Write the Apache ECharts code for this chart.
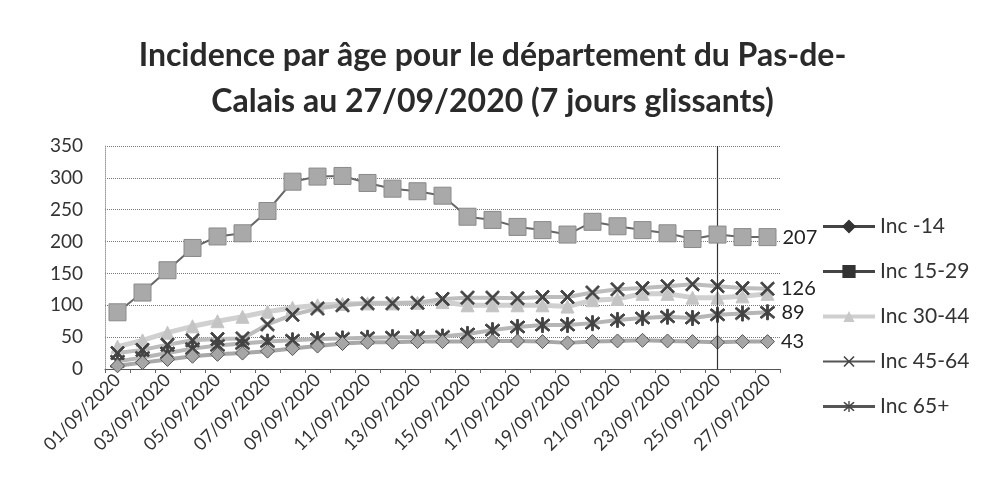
<!DOCTYPE html>
<html>
<head>
<meta charset="utf-8">
<script src="https://cdn.jsdelivr.net/npm/echarts@6/dist/echarts.min.js"></script>
<style>
  html, body { margin: 0; padding: 0; background: #fff; }
  #chart { width: 985px; height: 501px; }
</style>
</head>
<body>
<div id="chart"></div>
<script>
const dates = [
  '01/09/2020', '02/09/2020', '03/09/2020', '04/09/2020', '05/09/2020', '06/09/2020',
  '07/09/2020', '08/09/2020', '09/09/2020', '10/09/2020', '11/09/2020', '12/09/2020',
  '13/09/2020', '14/09/2020', '15/09/2020', '16/09/2020', '17/09/2020', '18/09/2020',
  '19/09/2020', '20/09/2020', '21/09/2020', '22/09/2020', '23/09/2020', '24/09/2020',
  '25/09/2020', '26/09/2020', '27/09/2020'
];
const inc14 = [5, 10, 15, 20, 23, 25, 28, 32, 36, 40, 42, 42, 43, 43, 43, 44, 44, 43, 41, 43, 44, 45, 44, 43, 42, 43, 43];
const inc15_29 = [89, 120, 155, 190, 208, 213, 248, 294, 302, 303, 292, 283, 279, 272, 239, 234, 223, 218, 211, 231, 224, 218, 213, 204, 211, 207, 207];
const inc30_44 = [35, 45, 57, 67, 75, 82, 90, 96, 100, 102, 103, 103, 104, 105, 100, 100, 100, 100, 98, 108, 110, 118, 118, 112, 112, 114, 118];
const inc45_64 = [25, 30, 38, 45, 47, 48, 70, 85, 95, 100, 103, 103, 104, 110, 112, 112, 111, 113, 113, 120, 125, 127, 130, 133, 130, 127, 126];
const inc65 = [12, 18, 25, 32, 37, 40, 43, 45, 47, 48, 49, 50, 50, 51, 55, 61, 66, 69, 69, 72, 77, 80, 82, 80, 85, 87, 89];
const yTicks = [0, 50, 100, 150, 200, 250, 300, 350];

const FONT = 'Lato, "Open Sans", sans-serif';
const xPath = 'path://M0,1 L1,0 L5,4 L9,0 L10,1 L6,5 L10,9 L9,10 L5,6 L1,10 L0,9 L4,5 Z';
const starPath = 'path://M0,1 L1,0 L5,4 L9,0 L10,1 L6,5 L10,9 L9,10 L5,6 L1,10 L0,9 L4,5 Z M4.4,-1 L5.6,-1 L5.6,11 L4.4,11 Z';

// only the last point carries a value label
const lastLabel = {
  show: true,
  position: 'right',
  distance: 6,
  fontSize: 20,
  fontFamily: FONT,
  color: '#222',
  formatter: (p) => (p.dataIndex === dates.length - 1 ? String(p.value) : '')
};

const chart = echarts.init(document.getElementById('chart'));

chart.setOption({
  animation: false,
  title: {
    text: 'Incidence par âge pour le département du Pas-de-\nCalais au 27/09/2020 (7 jours glissants)',
    left: 'center',
    top: 28,
    padding: [5, 5, 5, 15],
    textStyle: {
      fontFamily: FONT,
      fontSize: 32,
      fontWeight: 'bold',
      color: '#2a2a2a',
      lineHeight: 46
    }
  },
  legend: {
    orient: 'vertical',
    left: 816,
    top: 211,
    itemWidth: 52,
    itemHeight: 14,
    itemGap: 24,
    textStyle: { fontFamily: FONT, fontSize: 21, color: '#333', lineHeight: 20 },
    data: [
      { name: 'Inc -14', itemStyle: { color: '#333', borderColor: '#333' }, lineStyle: { color: '#444', width: 3 } },
      { name: 'Inc 15-29', itemStyle: { color: '#333', borderColor: '#333' }, lineStyle: { color: '#444', width: 3 } },
      { name: 'Inc 30-44', itemStyle: { color: '#c8c8c8', borderColor: '#c8c8c8' }, lineStyle: { color: '#cfcfcf', width: 4 } },
      { name: 'Inc 45-64', itemStyle: { color: '#444', borderColor: '#444' }, lineStyle: { color: '#555', width: 2 } },
      { name: 'Inc 65+', itemStyle: { color: '#444', borderColor: '#444' }, lineStyle: { color: '#555', width: 3 } }
    ]
  },
  grid: { left: 105, right: 205, top: 146, bottom: 132 },
  xAxis: {
    type: 'category',
    data: dates,
    boundaryGap: true,
    axisLine: { lineStyle: { color: '#555', width: 1 } },
    axisTick: { show: true, interval: 0, length: 4, lineStyle: { color: '#666' } },
    axisLabel: {
      interval: 1,
      rotate: 45,
      fontFamily: FONT,
      fontSize: 18,
      color: '#333',
      margin: 8
    }
  },
  yAxis: {
    type: 'value',
    min: yTicks[0],
    max: yTicks[yTicks.length - 1],
    interval: 50,
    axisLine: { show: true, lineStyle: { color: '#999', type: 'dotted' } },
    axisTick: { show: false },
    axisLabel: { fontFamily: FONT, fontSize: 19, color: '#333', margin: 22 },
    splitLine: { lineStyle: { color: '#777', type: 'dotted', width: 1 } }
  },
  series: [
    {
      name: 'Inc 30-44',
      type: 'line',
      data: inc30_44,
      symbol: 'triangle',
      symbolSize: 13,
      showAllSymbol: true,
      z: 2,
      lineStyle: { color: '#d0d0d0', width: 5 },
      itemStyle: { color: '#c4c4c4', borderColor: '#c4c4c4' }
    },
    {
      name: 'Inc 45-64',
      type: 'line',
      data: inc45_64,
      symbol: xPath,
      symbolSize: 14,
      showAllSymbol: true,
      z: 3,
      lineStyle: { color: '#bdbdbd', width: 4 },
      itemStyle: { color: '#444', borderColor: '#444' },
      label: lastLabel
    },
    {
      name: 'Inc 65+',
      type: 'line',
      data: inc65,
      symbol: starPath,
      symbolSize: 15,
      showAllSymbol: true,
      z: 3,
      lineStyle: { color: '#b6b6b6', width: 4 },
      itemStyle: { color: '#444', borderColor: '#444' },
      label: lastLabel
    },
    {
      name: 'Inc -14',
      type: 'line',
      data: inc14,
      symbol: 'diamond',
      symbolSize: 14,
      showAllSymbol: true,
      z: 4,
      lineStyle: { color: '#a8a8a8', width: 4 },
      itemStyle: { color: '#a6a6a6', borderColor: '#555', borderWidth: 1 },
      label: lastLabel
    },
    {
      name: 'Inc 15-29',
      type: 'line',
      data: inc15_29,
      symbol: 'rect',
      symbolSize: 17,
      showAllSymbol: true,
      z: 5,
      lineStyle: { color: '#666', width: 2 },
      itemStyle: { color: '#a9a9a9', borderColor: '#8a8a8a', borderWidth: 1 },
      label: lastLabel,
      markLine: {
        silent: true,
        symbol: 'none',
        label: { show: false },
        lineStyle: { color: '#333', width: 1.2, type: 'solid' },
        data: [{ xAxis: '25/09/2020' }]
      }
    }
  ]
});
</script>
</body>
</html>
